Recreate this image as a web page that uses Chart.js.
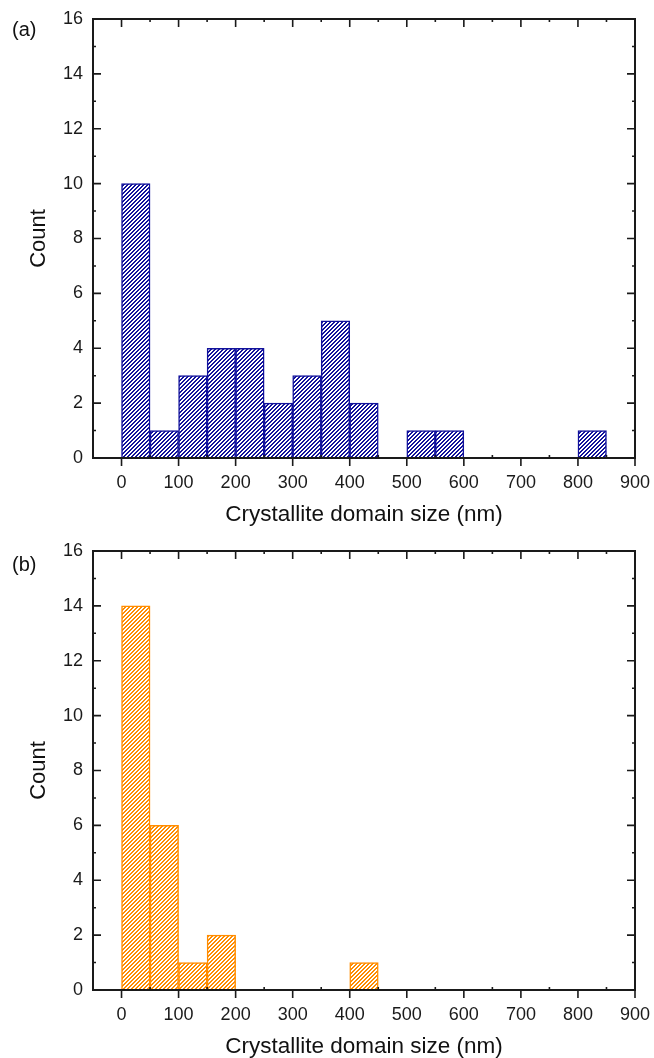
<!DOCTYPE html>
<html><head><meta charset="utf-8">
<script src="https://cdn.jsdelivr.net/npm/chart.js@4.4.0/dist/chart.umd.min.js"></script>
<style>
html,body{margin:0;padding:0;background:#fff;overflow:hidden;width:654px;height:1058px;}
.box{position:absolute;left:0;width:654px;height:532px;}
</style></head><body>
<div class="box" style="top:0"><canvas id="c1" width="654" height="532"></canvas></div>
<div class="box" style="top:532px"><canvas id="c2" width="654" height="532"></canvas></div>
<script>
// ---- data ----
const binCentersA = [25, 75, 125, 175, 225, 275, 325, 375, 425, 525, 575, 825];
const countsA     = [10, 1, 3, 4, 4, 2, 3, 5, 2, 1, 1, 1];
const binCentersB = [25, 75, 125, 175, 425];
const countsB     = [14, 6, 1, 2, 1];
const xTickValues  = [0, 100, 200, 300, 400, 500, 600, 700, 800, 900];
const xMinorValues = [50, 150, 250, 350, 450, 550, 650, 750, 850];
const yTickValues  = [0, 2, 4, 6, 8, 10, 12, 14, 16];
const yMinorValues = [1, 3, 5, 7, 9, 11, 13, 15];
const xTitle = 'Crystallite domain size (nm)';
const yTitle = 'Count';

const FAMILY = '"Liberation Sans", Arial, Helvetica, sans-serif';

function makePattern(targetCtx, color){
  const s = 4;
  const c = document.createElement('canvas'); c.width = s; c.height = s;
  const g = c.getContext('2d');
  g.fillStyle = '#ffffff'; g.fillRect(0,0,s,s);
  g.fillStyle = color;
  for (let i = 0; i < s; i++) {
    g.fillRect(i, s - 1 - i, 1, 1);
    g.fillRect(i, (s - i) % s, 1, 1);
  }
  return targetCtx.createPattern(c, 'repeat');
}

function framePlugin(panelLabel, labelY){
  return {
    id:'frame',
    afterDatasetsDraw(chart){
      const {ctx, chartArea:a, scales:{x, y}} = chart;
      ctx.save();
      ctx.strokeStyle = '#1a1a1a';
      ctx.lineWidth = 2;
      ctx.strokeRect(a.left, a.top, a.right - a.left, a.bottom - a.top);
      ctx.lineWidth = 1.6;
      ctx.beginPath();
      yTickValues.forEach(v => { const p = y.getPixelForValue(v);
        ctx.moveTo(a.left, p); ctx.lineTo(a.left + 8, p);
        ctx.moveTo(a.right, p); ctx.lineTo(a.right - 8, p); });
      yMinorValues.forEach(v => { const p = y.getPixelForValue(v);
        ctx.moveTo(a.left, p); ctx.lineTo(a.left + 3, p);
        ctx.moveTo(a.right, p); ctx.lineTo(a.right - 3, p); });
      xTickValues.forEach(v => { const p = x.getPixelForValue(v);
        ctx.moveTo(p, a.top); ctx.lineTo(p, a.top + 8);
        ctx.moveTo(p, a.bottom); ctx.lineTo(p, a.bottom + 8); });
      xMinorValues.forEach(v => { const p = x.getPixelForValue(v);
        ctx.moveTo(p, a.top); ctx.lineTo(p, a.top + 3);
        ctx.moveTo(p, a.bottom); ctx.lineTo(p, a.bottom - 3); });
      ctx.stroke();
      ctx.font = '20px ' + FAMILY;
      ctx.fillStyle = '#111';
      ctx.textBaseline = 'middle';
      ctx.textAlign = 'left';
      ctx.fillText(panelLabel, 12, labelY);
      ctx.restore();
    }
  };
}

function makeChart(id, centers, counts, color, panelLabel, labelY){
  const canvas = document.getElementById(id);
  const pattern = makePattern(canvas.getContext('2d'), color);
  new Chart(canvas, {
    type: 'bar',
    data: { datasets: [{
      data: centers.map((c, i) => ({x: c, y: counts[i]})),
      backgroundColor: pattern,
      hoverBackgroundColor: pattern,
      borderColor: color,
      borderWidth: 1.5,
      borderSkipped: 'start',
      barPercentage: 1,
      categoryPercentage: 1
    }]},
    options: {
      responsive: false,
      animation: false,
      events: [],
      plugins: { legend: {display: false}, tooltip: {enabled: false} },
      layout: { padding: {top: 19, right: 19, left: 0, bottom: 0} },
      scales: {
        x: {
          type: 'linear', min: -50, max: 900, offset: false,
          afterBuildTicks: s => { s.ticks = xTickValues.map(v => ({value: v})); },
          afterFit: s => { s.height = 74; s.paddingLeft = 0; s.paddingRight = 0; },
          grid: {display: false, drawTicks: false, offset: false},
          border: {display: false},
          ticks: {padding: 14, font: {family: FAMILY, size: 18}, color: '#1a1a1a', maxRotation: 0, autoSkip: false},
          title: {display: true, text: xTitle, font: {family: FAMILY, size: 22.5}, color: '#111', padding: {top: 0, bottom: 4}}
        },
        y: {
          min: 0, max: 16,
          afterBuildTicks: s => { s.ticks = yTickValues.map(v => ({value: v})); },
          afterFit: s => { s.width = 93; s.paddingTop = 0; s.paddingBottom = 0; },
          grid: {display: false, drawTicks: false},
          border: {display: false},
          ticks: {padding: 10, font: {family: FAMILY, size: 18}, color: '#1a1a1a', autoSkip: false},
          title: {display: true, text: yTitle, font: {family: FAMILY, size: 22}, color: '#111', padding: {top: 26, bottom: 0}}
        }
      }
    },
    plugins: [framePlugin(panelLabel, labelY)]
  });
}

makeChart('c1', binCentersA, countsA, '#12129c', '(a)', 30);
makeChart('c2', binCentersB, countsB, '#ff8c00', '(b)', 33);
</script>
</body></html>
